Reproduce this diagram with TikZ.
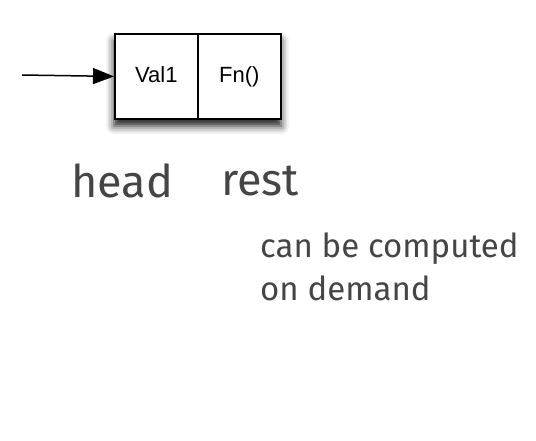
\documentclass[tikz,border=0pt]{standalone}
\usepackage{fontspec}
\setmainfont{Fira Sans}
\newfontfamily\arialfont{Liberation Sans}
\usetikzlibrary{arrows.meta,shadows.blur}
\definecolor{txtgray}{HTML}{454545}
\tikzset{
  cell/.style={draw=black, line width=1.8pt, fill=white, minimum width=83pt, minimum height=85pt, inner sep=0pt, text height=16pt, text depth=4pt, font=\arialfont\fontsize{22}{24}\selectfont},
  lbl/.style={text=txtgray, inner sep=0pt, anchor=base west},
}
\begin{document}
\begin{tikzpicture}[x=1pt,y=-1pt]
\useasboundingbox (0,0) rectangle (536,440);
\fill[black!60, blur shadow={shadow xshift=0pt, shadow yshift=-8pt, shadow blur radius=8pt, shadow opacity=90}] (114,33) rectangle (281,118);
\node[cell, anchor=north west] (val) at (114,33) {Val1};
\node[cell, anchor=north west] (fn) at (197,33) {Fn()};
\coordinate (start) at (22,75);
\draw[line width=1.5pt, -{Triangle[length=21pt,width=16pt,fill=black]}] (start) -- (val.west);
\node[lbl, font=\fontsize{45}{50}\selectfont] (head) at (71,197) {head};
\node[lbl, font=\fontsize{45}{50}\selectfont] (rest) at (221,195) {rest};
\node[lbl, font=\fontsize{33}{46}\selectfont] (c1) at (260,257) {can be computed};
\node[lbl, font=\fontsize{33}{46}\selectfont] (c2) at (260,300) {on demand};
\end{tikzpicture}
\end{document}
